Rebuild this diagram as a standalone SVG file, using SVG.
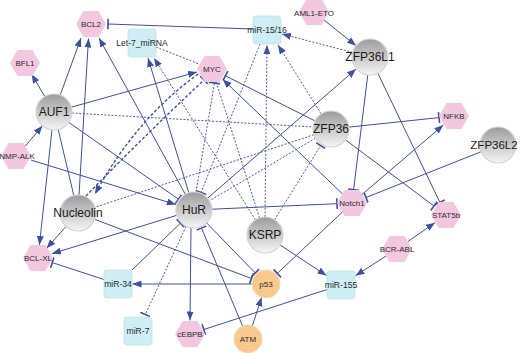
<svg xmlns="http://www.w3.org/2000/svg" width="520" height="353" viewBox="0 0 520 353">
<style>
.e{stroke:#3d50a2;stroke-width:1;fill:none}
.d{stroke:#4a5ca8;stroke-width:1;fill:none;stroke-dasharray:2 1.6}
.dd{stroke:#3d50a2;stroke-width:1.4;fill:none;stroke-dasharray:3 2}
.hx{fill:#f3c8df}
.bx{fill:#cdeef4;stroke:#bfe2ea;stroke-width:0.8}
.og{fill:#f9c88c;stroke:#f3d9b8;stroke-width:1}
.gc{fill:url(#gg);stroke:#d6d6d6;stroke-width:1.2}
text{font-family:"Liberation Sans",Arial,sans-serif;text-anchor:middle;dominant-baseline:central}
.s{font-size:8px;fill:#2a2a2a}
.m{font-size:8.6px;fill:#2a2a2a}
.b{font-size:12px;fill:#1a1a1a}
</style>
<defs>
<linearGradient id="gg" x1="0" y1="0" x2="0" y2="1">
<stop offset="0" stop-color="#9c9c9c"/>
<stop offset="0.5" stop-color="#c9c9c9"/>
<stop offset="1" stop-color="#f6f6f6"/>
</linearGradient>
<polygon id="hex" points="-15,0 -7.5,-13 7.5,-13 15,0 7.5,13 -7.5,13"/>
<marker id="a" viewBox="0 0 9 7" refX="9" refY="3.5" markerWidth="9" markerHeight="7" orient="auto" markerUnits="userSpaceOnUse">
<path d="M0,0 L9,3.5 L0,7 z" fill="#3d50a2"/>
</marker>
<marker id="t" viewBox="0 0 3 11" refX="1.5" refY="5.5" markerWidth="3" markerHeight="11" orient="auto" markerUnits="userSpaceOnUse">
<path d="M1.5,0 V11" stroke="#3d50a2" stroke-width="1.6"/>
</marker>
</defs>
<rect width="520" height="353" fill="#ffffff"/>
<g id="connectors">
<line class="e" x1="253" y1="29" x2="108" y2="24" marker-end="url(#t)"/>
<line class="e" x1="324" y1="20" x2="356" y2="45.7" marker-end="url(#a)"/>
<line class="d" x1="352.6" y1="52.4" x2="282" y2="34" marker-end="url(#a)"/>
<line class="e" x1="44.8" y1="96.5" x2="31.6" y2="74.2" marker-end="url(#a)"/>
<line class="e" x1="60.2" y1="95.1" x2="81" y2="38" marker-end="url(#a)"/>
<line class="e" x1="79" y1="195" x2="88.5" y2="38.5" marker-end="url(#a)"/>
<line class="e" x1="185.3" y1="194.2" x2="99" y2="38" marker-end="url(#a)"/>
<line class="e" x1="188.8" y1="192.8" x2="148" y2="58" marker-end="url(#a)"/>
<line class="d" x1="255.4" y1="219.8" x2="154" y2="58" marker-end="url(#a)"/>
<line class="d" x1="156" y1="47" x2="199" y2="64"/>
<line class="e" x1="71.3" y1="107.2" x2="197" y2="72" marker-end="url(#a)"/>
<line class="d" x1="72" y1="113" x2="313" y2="127"/>
<line class="e" x1="68.7" y1="122.3" x2="178.4" y2="199.1" marker-end="url(#t)"/>
<line class="e" x1="25.4" y1="146" x2="42.4" y2="125.8" marker-end="url(#a)"/>
<line class="e" x1="31" y1="160.1" x2="175.8" y2="204.5" marker-end="url(#a)"/>
<line class="e" x1="52" y1="129.9" x2="39.4" y2="245" marker-end="url(#a)"/>
<line class="e" x1="58.2" y1="129.5" x2="73.8" y2="195.5"/>
<line class="e" x1="66" y1="226.4" x2="46.6" y2="248.3" marker-end="url(#a)"/>
<line class="e" x1="176.8" y1="215.3" x2="51.9" y2="253.7" marker-end="url(#a)"/>
<line class="e" x1="104" y1="279.5" x2="52.3" y2="262.6" marker-end="url(#t)"/>
<line class="e" x1="132" y1="270" x2="180.4" y2="223.2" marker-end="url(#t)"/>
<line class="e" x1="252" y1="284" x2="132.5" y2="284" marker-end="url(#a)"/>
<line class="e" x1="94.8" y1="219.4" x2="251.5" y2="278.5" marker-end="url(#t)"/>
<line class="e" x1="206.6" y1="222.9" x2="255.2" y2="272.9" marker-end="url(#t)"/>
<line class="e" x1="342.5" y1="211.9" x2="277.3" y2="273.4" marker-end="url(#t)"/>
<line class="e" x1="252.4" y1="325.7" x2="261.6" y2="297.3" marker-end="url(#a)"/>
<line class="e" x1="242.6" y1="326.1" x2="201.5" y2="228" marker-end="url(#t)"/>
<line class="e" x1="191" y1="228" x2="190" y2="320.5" marker-end="url(#a)"/>
<line class="d" x1="186" y1="226.3" x2="145.3" y2="314.5" marker-end="url(#t)"/>
<line class="e" x1="327" y1="289.5" x2="203.8" y2="329.5" marker-end="url(#t)"/>
<line class="e" x1="280" y1="244.9" x2="326.5" y2="275.5" marker-end="url(#a)"/>
<line class="e" x1="386" y1="256" x2="355.5" y2="275.7" marker-end="url(#a)"/>
<line class="e" x1="408" y1="241.5" x2="434.9" y2="222.7" marker-end="url(#a)"/>
<line class="e" x1="377.8" y1="73.2" x2="439.9" y2="202.4" marker-end="url(#t)"/>
<line class="e" x1="345.4" y1="139.8" x2="434" y2="206" marker-end="url(#t)"/>
<line class="e" x1="367.8" y1="74.9" x2="353.6" y2="189.6" marker-end="url(#t)"/>
<line class="e" x1="481.3" y1="151.6" x2="366" y2="197.5" marker-end="url(#t)"/>
<line class="e" x1="212" y1="209.2" x2="337" y2="203.7" marker-end="url(#t)"/>
<line class="e" x1="362" y1="194.5" x2="443.3" y2="125.1" marker-end="url(#a)"/>
<line class="e" x1="349" y1="127.1" x2="439" y2="117.6" marker-end="url(#t)"/>
<line class="e" x1="207.6" y1="198.2" x2="356" y2="69.1" marker-end="url(#a)"/>
<line class="e" x1="314.9" y1="120.9" x2="225.4" y2="75.8" marker-end="url(#t)"/>
<line class="e" x1="342.6" y1="194" x2="222.8" y2="79.4" marker-end="url(#a)"/>
<line class="d" x1="259.5" y1="217.9" x2="216.3" y2="82.3"/>
<line class="d" x1="265" y1="217" x2="267" y2="45" marker-end="url(#a)"/>
<line class="d" x1="321.2" y1="113.9" x2="278" y2="45" marker-end="url(#a)"/>
<line class="d" x1="260" y1="44" x2="201.1" y2="192.4" marker-end="url(#t)"/>
<line class="d" x1="315.5" y1="138.2" x2="209.5" y2="200.8"/>
<line class="d" x1="313.9" y1="134.7" x2="95.1" y2="207.3"/>
<line class="d" x1="274.5" y1="219.7" x2="320.7" y2="145.6" marker-end="url(#t)"/>
<path class="dd" d="M198,74 Q135,120 95,194" marker-end="url(#a)"/>
<path class="dd" d="M86,196 Q140,140 204,80" marker-end="url(#t)"/>
<line class="d" x1="196" y1="192" x2="214.5" y2="83" marker-end="url(#t)"/>
</g>
<g id="BCL2"><use href="#hex" class="hx" x="91" y="24"/><text class="s" x="91" y="24">BCL2</text></g>
<g id="BFL1"><use href="#hex" class="hx" x="25" y="63"/><text class="s" x="25" y="63">BFL1</text></g>
<g id="MYC"><use href="#hex" class="hx" x="212" y="69"/><text class="s" x="212" y="69">MYC</text></g>
<g id="NMP-ALK"><use href="#hex" class="hx" x="16" y="156"/><text class="s" x="17" y="156">NMP-ALK</text></g>
<g id="AML1-ETO"><use href="#hex" class="hx" x="314" y="12"/><text class="s" x="314" y="13">AML1-ETO</text></g>
<g id="NFKB"><use href="#hex" class="hx" x="454" y="116"/><text class="s" x="454" y="116">NFKB</text></g>
<g id="BCL-XL"><use href="#hex" class="hx" x="38" y="258"/><text class="s" x="38" y="258">BCL-XL</text></g>
<g id="Notch1"><use href="#hex" class="hx" x="352" y="203"/><text class="s" x="352" y="203">Notch1</text></g>
<g id="STAT5b"><use href="#hex" class="hx" x="446" y="215"/><text class="s" x="446" y="215">STAT5b</text></g>
<g id="BCR-ABL"><use href="#hex" class="hx" x="397" y="249"/><text class="s" x="397" y="249">BCR-ABL</text></g>
<g id="cEBPB"><use href="#hex" class="hx" x="190" y="334"/><text class="s" x="190" y="334">cEBPB</text></g>
<g id="Let-7_miRNA"><rect class="bx" x="128" y="29" width="28" height="28" rx="3"/><text class="m" x="142" y="43">Let-7_miRNA</text></g>
<g id="miR-15-16"><rect class="bx" x="253" y="16" width="28" height="28" rx="3"/><text class="m" x="267" y="30">miR-15/16</text></g>
<g id="miR-34"><rect class="bx" x="104" y="270" width="28" height="28" rx="3"/><text class="m" x="118" y="284">miR-34</text></g>
<g id="miR-155"><rect class="bx" x="327" y="271" width="28" height="28" rx="3"/><text class="m" x="341" y="285">miR-155</text></g>
<g id="miR-7"><rect class="bx" x="124" y="317" width="28" height="28" rx="3"/><text class="m" x="138" y="331">miR-7</text></g>
<g id="p53"><circle class="og" cx="266" cy="284" r="14"/><text class="s" x="266" y="284">p53</text></g>
<g id="ATM"><circle class="og" cx="248" cy="339" r="14"/><text class="s" x="248" y="339">ATM</text></g>
<g id="AUF1"><circle class="gc" cx="54" cy="112" r="18"/><text class="b" x="54" y="112">AUF1</text></g>
<g id="ZFP36L1"><circle class="gc" cx="370" cy="57" r="18"/><text class="b" x="370" y="57">ZFP36L1</text></g>
<g id="ZFP36"><circle class="gc" cx="331" cy="129" r="18"/><text class="b" x="331" y="129">ZFP36</text></g>
<g id="ZFP36L2"><circle class="gc" cx="498" cy="145" r="18"/><text class="b" x="494" y="145" style="font-size:11.5px">ZFP36L2</text></g>
<g id="Nucleolin"><circle class="gc" cx="78" cy="213" r="18"/><text class="b" x="78" y="213">Nucleolin</text></g>
<g id="HuR"><circle class="gc" cx="194" cy="210" r="18"/><text class="b" x="194" y="210">HuR</text></g>
<g id="KSRP"><circle class="gc" cx="265" cy="235" r="18"/><text class="b" x="265" y="235">KSRP</text></g>
</svg>
